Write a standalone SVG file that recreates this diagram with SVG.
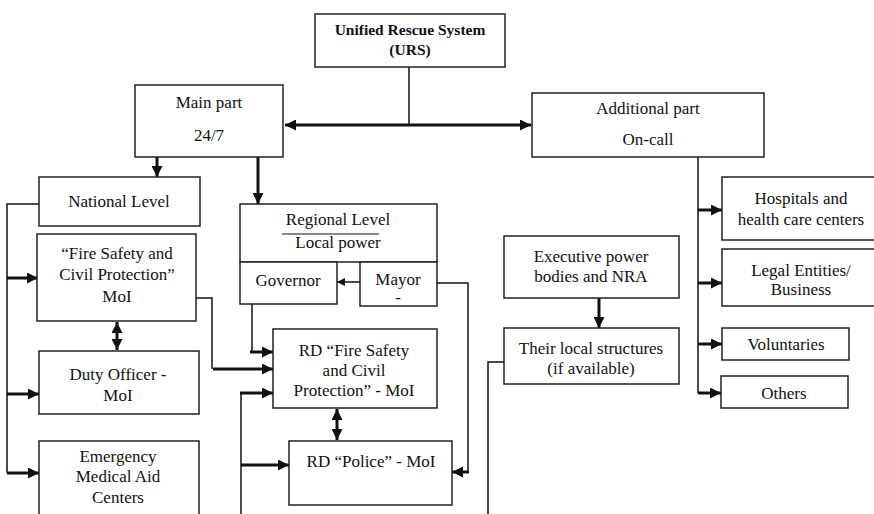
<svg xmlns="http://www.w3.org/2000/svg" width="874" height="514" viewBox="0 0 874 514">
<defs>
<marker id="ah" viewBox="0 0 10 10" refX="10" refY="5" markerWidth="11" markerHeight="11" markerUnits="userSpaceOnUse" orient="auto-start-reverse">
<path d="M0,0 L10,5 L0,10 z" fill="#111"/>
</marker>
<marker id="ahs" viewBox="0 0 10 10" refX="10" refY="5" markerWidth="8" markerHeight="8" markerUnits="userSpaceOnUse" orient="auto">
<path d="M0,0 L10,5 L0,10 z" fill="#111"/>
</marker>
<style>
.box{fill:#fff;stroke:#222;stroke-width:1.5}
.t{font-size:17px;fill:#111;text-anchor:middle}
.b{font-weight:bold;font-size:15.5px}
.thin{fill:none;stroke:#111;stroke-width:1.5}
.thick{fill:none;stroke:#111;stroke-width:3}
</style>
</defs>
<rect width="874" height="514" fill="#fff"/>

<g id="connectors">
<line class="thin" x1="409" y1="67" x2="409" y2="125"/>
<line class="thick" x1="285" y1="125" x2="531" y2="125" marker-start="url(#ah)" marker-end="url(#ah)"/>
<line class="thick" x1="157" y1="157" x2="157" y2="177" marker-end="url(#ah)"/>
<line class="thick" x1="258" y1="157" x2="258" y2="204" marker-end="url(#ah)"/>
<polyline class="thin" points="39,204 7,204 7,473"/>
<line class="thick" x1="7" y1="278" x2="38" y2="278" marker-end="url(#ah)"/>
<line class="thick" x1="7" y1="394" x2="39" y2="394" marker-end="url(#ah)"/>
<line class="thick" x1="7" y1="473" x2="39" y2="473" marker-end="url(#ah)"/>
<line class="thick" x1="117" y1="322" x2="117" y2="350" marker-start="url(#ah)" marker-end="url(#ah)"/>
<polyline class="thin" points="196,298 212,298 212,369"/>
<line class="thick" x1="213" y1="369" x2="273" y2="369" marker-end="url(#ah)"/>
<polyline class="thin" points="252,304 252,352"/>
<line class="thick" x1="250" y1="352" x2="273" y2="352" marker-end="url(#ah)"/>
<polyline class="thin" points="241,514 241,393"/>
<line class="thick" x1="240" y1="393" x2="273" y2="393" marker-end="url(#ah)"/>
<line class="thick" x1="241" y1="465" x2="289" y2="465" marker-end="url(#ah)"/>
<line class="thick" x1="337" y1="409" x2="337" y2="440" marker-start="url(#ah)" marker-end="url(#ah)"/>
<line class="thin" x1="360" y1="282" x2="337" y2="282" marker-end="url(#ahs)"/>
<polyline class="thin" points="437,283 468,283 468,472"/>
<line class="thick" x1="469" y1="472" x2="452" y2="472" marker-end="url(#ah)"/>
<line class="thick" x1="599" y1="298" x2="599" y2="328" marker-end="url(#ah)"/>
<polyline class="thin" points="504,362 488,362 488,514"/>
<line class="thin" x1="698" y1="157" x2="698" y2="393"/>
<line class="thick" x1="698" y1="210" x2="722" y2="210" marker-end="url(#ah)"/>
<line class="thick" x1="698" y1="283" x2="722" y2="283" marker-end="url(#ah)"/>
<line class="thick" x1="698" y1="344" x2="722" y2="344" marker-end="url(#ah)"/>
<line class="thick" x1="698" y1="393" x2="721" y2="393" marker-end="url(#ah)"/>
</g>

<g font-family="Liberation Serif, Times New Roman, serif">
<g id="urs">
<rect class="box" x="315" y="14" width="190" height="53"/>
<text class="t b" x="410" y="35">Unified Rescue System</text>
<text class="t b" x="410" y="55">(URS)</text>
</g>

<g id="main-part">
<rect class="box" x="135" y="85" width="148" height="72"/>
<text class="t" x="209" y="108">Main part</text>
<text class="t" x="209" y="141">24/7</text>
</g>

<g id="additional-part">
<rect class="box" x="532" y="93" width="232" height="64"/>
<text class="t" x="648" y="114">Additional part</text>
<text class="t" x="648" y="145">On-call</text>
</g>

<g id="national-level">
<rect class="box" x="39" y="177" width="161" height="49"/>
<text class="t" x="119" y="207">National Level</text>
</g>

<g id="regional-level">
<rect class="box" x="240" y="204" width="197" height="58"/>
<text class="t" x="338" y="225">Regional Level</text>
<line x1="282" y1="234" x2="379" y2="234" stroke="#111" stroke-width="1.2"/>
<text class="t" x="338" y="248">Local power</text>
</g>

<g id="governor">
<rect class="box" x="240" y="262" width="97" height="42"/>
<text class="t" x="288" y="286">Governor</text>
</g>

<g id="mayor">
<rect class="box" x="360" y="262" width="77" height="44"/>
<text class="t" x="398" y="285">Mayor</text>
<text class="t" x="398" y="303">-</text>
</g>

<g id="fire-safety">
<rect class="box" x="37" y="234" width="159" height="87"/>
<text class="t" x="117" y="259">“Fire Safety and</text>
<text class="t" x="117" y="280">Civil Protection”</text>
<text class="t" x="117" y="302">MoI</text>
</g>

<g id="duty-officer">
<rect class="box" x="39" y="351" width="160" height="63"/>
<text class="t" x="118" y="380">Duty Officer -</text>
<text class="t" x="118" y="401">MoI</text>
</g>

<g id="emergency">
<rect class="box" x="39" y="441" width="160" height="80"/>
<text class="t" x="118" y="462">Emergency</text>
<text class="t" x="118" y="482">Medical Aid</text>
<text class="t" x="118" y="503">Centers</text>
</g>

<g id="rd-fire">
<rect class="box" x="273" y="329" width="164" height="79"/>
<text class="t" x="354" y="356">RD “Fire Safety</text>
<text class="t" x="354" y="376">and Civil</text>
<text class="t" x="354" y="396">Protection” - MoI</text>
</g>

<g id="rd-police">
<rect class="box" x="289" y="441" width="163" height="64"/>
<text class="t" x="371" y="467">RD “Police” - MoI</text>
</g>

<g id="executive">
<rect class="box" x="504" y="236" width="175" height="62"/>
<text class="t" x="591" y="262">Executive power</text>
<text class="t" x="591" y="282">bodies and NRA</text>
</g>

<g id="local-structures">
<rect class="box" x="504" y="328" width="175" height="56"/>
<text class="t" x="591" y="354">Their local structures</text>
<text class="t" x="591" y="374">(if available)</text>
</g>

<g id="hospitals">
<rect class="box" x="722" y="177" width="160" height="63"/>
<text class="t" x="801" y="204">Hospitals and</text>
<text class="t" x="801" y="225">health care centers</text>
</g>

<g id="legal">
<rect class="box" x="722" y="249" width="160" height="57"/>
<text class="t" x="801" y="276">Legal Entities/</text>
<text class="t" x="801" y="295">Business</text>
</g>

<g id="voluntaries">
<rect class="box" x="722" y="328" width="127" height="32"/>
<text class="t" x="786" y="350">Voluntaries</text>
</g>

<g id="others">
<rect class="box" x="721" y="376" width="127" height="32"/>
<text class="t" x="784" y="399">Others</text>
</g>
</g>
</svg>
